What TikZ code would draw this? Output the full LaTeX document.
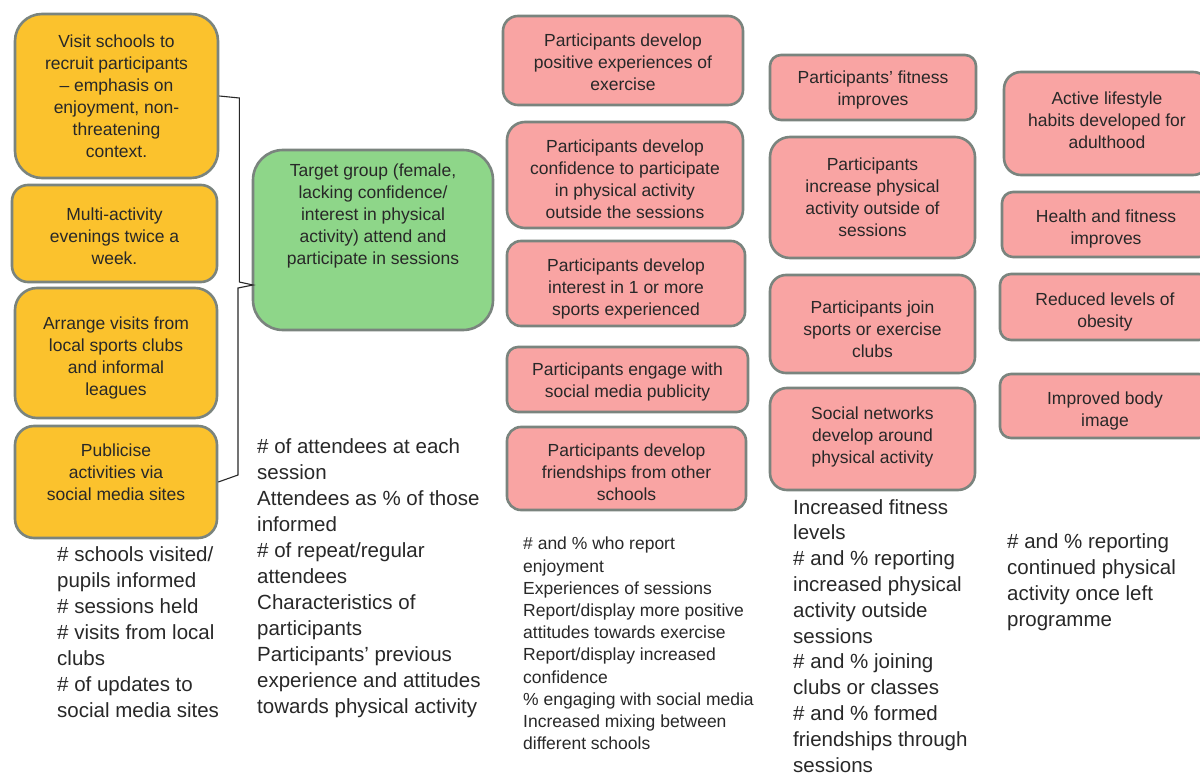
\documentclass[tikz,border=0pt]{standalone}
\usepackage{fontspec}
\setmainfont{Liberation Sans}
\usepackage{xcolor}
\definecolor{actfill}{RGB}{251,194,45}
\definecolor{tgtfill}{RGB}{142,214,137}
\definecolor{outfill}{RGB}{249,164,163}
\definecolor{edgegray}{RGB}{122,132,126}
\definecolor{ink}{RGB}{40,40,40}

\begin{document}
\begin{tikzpicture}[x=1pt, y=-1pt,
    box/.style={draw=edgegray, line width=2.6pt, align=center, inner sep=2pt, text=ink, font=\fontsize{17.5}{22}\selectfont},
    act/.style={box, fill=actfill},
    tgt/.style={box, fill=tgtfill},
    res/.style={box, fill=outfill},
    measure/.style={align=left, anchor=north west, inner sep=0pt, text=ink, font=\fontsize{20.5}{26}\selectfont},
    brace/.style={draw=ink, line width=1.1pt}]
    \useasboundingbox[fill=white] (0,0) rectangle (1200,778);

    % Activities
    \node[act, minimum width=203pt, minimum height=164pt, rounded corners=27pt] (visit) at (116.5,96) {Visit schools to\\recruit participants\\-- emphasis on\\enjoyment, non-\\threatening\\context.};
    \node[act, minimum width=205pt, minimum height=97pt, rounded corners=16pt, text height=61.8pt] (evenings) at (114.5,233.5) {Multi-activity\\evenings twice a\\week.};
    \node[act, minimum width=202pt, minimum height=130pt, rounded corners=22pt, text height=87.8pt] (clubs) at (116,353) {Arrange visits from\\local sports clubs\\and informal\\leagues};
    \node[act, minimum width=202pt, minimum height=112pt, rounded corners=19pt, text depth=20pt] (publicise) at (116,482) {Publicise\\activities via\\social media sites};

    % Target group
    \node[tgt, minimum width=240pt, minimum height=180pt, rounded corners=30pt, text depth=52pt] (target) at (373,240) {Target group (female,\\lacking confidence/\\interest in physical\\activity) attend and\\participate in sessions};

    % Brace
    \coordinate (tip) at (253,285);
    \draw[brace] (visit.east) -- ++(20,2) -- ++(0,184) -- (tip) -- ++(-15,3) -- ++(0,187) -- (publicise.east);

    % Short term outcomes
    \node[res, minimum width=240pt, minimum height=89pt, rounded corners=15pt, text height=60.8pt] (enjoy) at (623,60.5) {Participants develop\\positive experiences of\\exercise};
    \node[res, minimum width=236pt, minimum height=106pt, rounded corners=18pt, text height=86.8pt] (confid) at (625,175) {Participants develop\\confidence to participate\\in physical activity\\outside the sessions};
    \node[res, minimum width=238pt, minimum height=85pt, rounded corners=14pt, text height=66.8pt] (interest) at (626,283.5) {Participants develop\\interest in 1 or more\\sports experienced};
    \node[res, minimum width=241pt, minimum height=65pt, rounded corners=11pt, text height=38.8pt] (social) at (627.5,379.5) {Participants engage with\\social media publicity};
    \node[res, minimum width=239pt, minimum height=83pt, rounded corners=14pt, text height=64.8pt] (friends) at (626.5,468.5) {Participants develop\\friendships from other\\schools};

    % Medium term outcomes
    \node[res, minimum width=206pt, minimum height=65pt, rounded corners=11pt, text height=38.8pt] (fitness) at (873,87.5) {Participants' fitness\\improves};
    \node[res, minimum width=205pt, minimum height=121pt, rounded corners=20pt] (outside) at (872.5,197.5) {Participants\\increase physical\\activity outside of\\sessions};
    \node[res, minimum width=205pt, minimum height=98pt, rounded corners=16pt, text height=67.8pt] (join) at (872.5,324) {Participants join\\sports or exercise\\clubs};
    \node[res, minimum width=205pt, minimum height=102pt, rounded corners=17pt, text depth=7.7pt] (network) at (872.5,439) {Social networks\\develop around\\physical activity};

    % Long term outcomes
    \node[res, minimum width=206pt, minimum height=103pt, rounded corners=17pt, text depth=6.2pt] (habits) at (1107,123.5) {Active lifestyle\\habits developed for\\adulthood};
    \node[res, minimum width=208pt, minimum height=65pt, rounded corners=11pt, text height=43.8pt] (health) at (1106,224.5) {Health and fitness\\improves};
    \node[res, minimum width=210pt, minimum height=66pt, rounded corners=11pt, text height=43.8pt] (obesity) at (1105,307) {Reduced levels of\\obesity};
    \node[res, minimum width=210pt, minimum height=64pt, rounded corners=11pt, text height=44.8pt] (body) at (1105,406) {Improved body\\image};

    % Measures
    \node[measure] (m-act) at (57,546) {\# schools visited/\\pupils informed\\\# sessions held\\\# visits from local\\clubs\\\# of updates to\\social media sites};
    \node[measure] (m-tgt) at (257,438) {\# of attendees at each\\session\\Attendees as \% of those\\informed\\\# of repeat/regular\\attendees\\Characteristics of\\participants\\Participants' previous\\experience and attitudes\\towards physical activity};
    \node[measure, font=\fontsize{17.5}{22.2}\selectfont] (m-short) at (523,537) {\# and \% who report\\enjoyment\\Experiences of sessions\\Report/display more positive\\attitudes towards exercise\\Report/display increased\\confidence\\\% engaging with social media\\Increased mixing between\\different schools};
    \node[measure, font=\fontsize{20.5}{25.8}\selectfont] (m-medium) at (793,499) {Increased fitness\\levels\\\# and \% reporting\\increased physical\\activity outside\\sessions\\\# and \% joining\\clubs or classes\\\# and \% formed\\friendships through\\sessions};
    \node[measure] (m-long) at (1007,533) {\# and \% reporting\\continued physical\\activity once left\\programme};
\end{tikzpicture}
\end{document}
